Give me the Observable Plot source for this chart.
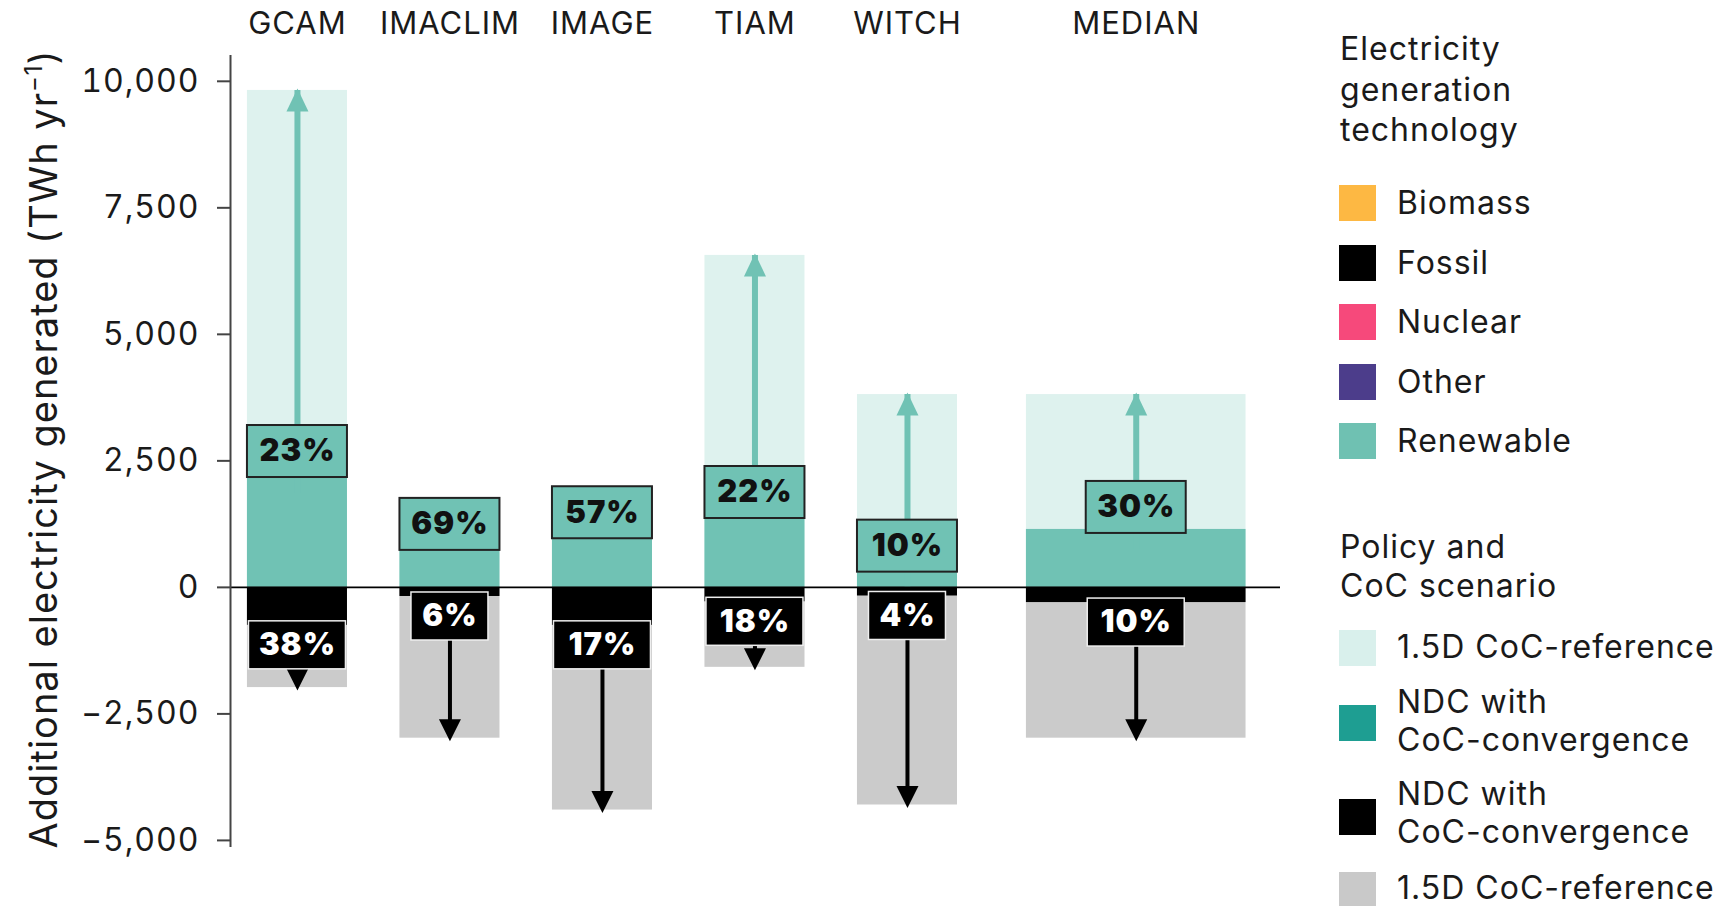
<!DOCTYPE html>
<html><head><meta charset="utf-8">
<script src="https://cdn.jsdelivr.net/npm/d3@7"></script>
<script src="https://cdn.jsdelivr.net/npm/@observablehq/plot@0.6"></script>
<style>
html,body{margin:0;padding:0;background:#fff;}
#wrap{position:relative;width:1716px;height:906px;overflow:hidden;font-family:Inter,"Noto Sans",sans-serif;color:#1a1a1a;}
#chart{position:absolute;left:0;top:0;}
.lg{position:absolute;font-size:32px;letter-spacing:1px;line-height:32px;white-space:nowrap;color:#1a1a1a;}
.sw{position:absolute;width:37px;height:36px;}
</style></head><body><div id="wrap"><div id="chart"></div><div id="legend"></div></div>
<script>
// ---- data ----
const models = ["GCAM", "IMACLIM", "IMAGE", "TIAM", "WITCH", "MEDIAN"];
const renewable15 = [9820, 1180, 1820, 6560, 3810, 3810];     // 1.5D CoC-reference, renewable
const renewableNDC = [2250, 810, 1040, 1440, 380, 1145];      // NDC with CoC-convergence, renewable
const fossil15 = [-1980, -2980, -4400, -1580, -4300, -2980];  // 1.5D CoC-reference, fossil
const fossilNDC = [-750, -180, -750, -285, -170, -300];       // NDC with CoC-convergence, fossil
const renewableShare = ["23%", "69%", "57%", "22%", "10%", "30%"];
const fossilShare = ["38%", "6%", "17%", "18%", "4%", "10%"];
const yTicks = [-5000, -2500, 0, 2500, 5000, 7500, 10000];
const techNames = ["Biomass", "Fossil", "Nuclear", "Other", "Renewable"];
const techColors = ["#FDB843", "#000000", "#F6497B", "#4C3D8B", "#6FC1B2"];
const scenarioNames = ["1.5D CoC-reference", "NDC with\nCoC-convergence", "NDC with\nCoC-convergence", "1.5D CoC-reference"];
const scenarioColors = ["#D9F0EC", "#1E9E92", "#000000", "#C9C9C9"];

// ---- styles ----
const teal = "#70C2B4", lightTeal = "#DEF2EE", grey = "#CBCBCB";
const last = models.length - 1;
const rows = models.map((model, i) => ({
  model,
  slot: i < last ? i : 5.5,
  half: i < last ? 0.328 : 0.72,
  r15: renewable15[i], rNDC: renewableNDC[i],
  f15: fossil15[i], fNDC: fossilNDC[i],
  rs: renewableShare[i], fs: fossilShare[i]
}));
const yDomain = [-5140, 10510];
const pxPerUnit = 792 / (yDomain[1] - yDomain[0]);
const upRows = rows.filter(d => (d.r15 - d.rNDC) * pxPerUnit > 60);

const upTri = {draw(ctx) { ctx.moveTo(0, 0); ctx.lineTo(11, 23); ctx.lineTo(-11, 23); ctx.closePath(); }};
const downTri = {draw(ctx) { ctx.moveTo(0, 0); ctx.lineTo(11, -22); ctx.lineTo(-11, -22); ctx.closePath(); }};

const plot = Plot.plot({
  width: 1300, height: 906,
  marginLeft: 230, marginRight: 20, marginTop: 55, marginBottom: 59,
  style: {fontFamily: "Inter, 'Noto Sans', sans-serif", color: "#1a1a1a", background: "white", letterSpacing: "1px"},
  x: {type: "linear", domain: [-0.439, 6.446], axis: null},
  y: {domain: yDomain, axis: null},
  marks: [
    Plot.rectY(rows, {x1: d => d.slot - d.half, x2: d => d.slot + d.half, y1: 0, y2: "r15", fill: lightTeal}),
    Plot.rectY(rows, {x1: d => d.slot - d.half, x2: d => d.slot + d.half, y1: 0, y2: "f15", fill: grey}),
    Plot.rectY(rows, {x1: d => d.slot - d.half, x2: d => d.slot + d.half, y1: 0, y2: "rNDC", fill: teal}),
    Plot.rectY(rows, {x1: d => d.slot - d.half, x2: d => d.slot + d.half, y1: 0, y2: "fNDC", fill: "#000"}),
    Plot.ruleX(upRows, {x: "slot", y1: "rNDC", y2: "r15", stroke: teal, strokeWidth: 6, insetTop: 20}),
    Plot.dot(upRows, {x: "slot", y: "r15", symbol: upTri, fill: teal, stroke: "none", dy: -2}),
    Plot.ruleX(rows, {x: "slot", y1: "fNDC", y2: "f15", stroke: "#000", strokeWidth: 4, insetBottom: 15}),
    Plot.dot(rows, {x: "slot", y: "f15", symbol: downTri, fill: "#000", stroke: "none", dy: 3}),
    Plot.ruleY([0], {stroke: "#000", strokeWidth: 1.6}),
    Plot.ruleX([-0.439], {y1: yDomain[0], y2: yDomain[1], stroke: "#444", strokeWidth: 2}),
    Plot.axisY({ticks: yTicks, tickSize: 13, tickPadding: 18, fontSize: 32, tickFormat: d3.format(","), label: null, stroke: "#444", strokeWidth: 2}),
    // renewable share boxes
    Plot.rect(rows, {x1: "slot", x2: "slot", y1: "rNDC", y2: "rNDC", insetLeft: -50, insetRight: -50, insetTop: -48, insetBottom: -4, fill: teal, stroke: "#222", strokeWidth: 2}),
    Plot.text(rows, {x: "slot", y: "rNDC", text: "rs", dy: -22, fontSize: 31, fontWeight: 900, fill: "#111", letterSpacing: "2px"}),
    // fossil share boxes
    Plot.rect(rows.filter(d => d.fs.length > 2), {x1: "slot", x2: "slot", y1: "fNDC", y2: "fNDC", insetLeft: -48.5, insetRight: -48.5, insetTop: -4, insetBottom: -44, fill: "#000", stroke: "#eee", strokeWidth: 1.5}),
    Plot.rect(rows.filter(d => d.fs.length <= 2), {x1: "slot", x2: "slot", y1: "fNDC", y2: "fNDC", insetLeft: -38.5, insetRight: -38.5, insetTop: -4, insetBottom: -44, fill: "#000", stroke: "#eee", strokeWidth: 1.5}),
    Plot.text(rows, {x: "slot", y: "fNDC", text: "fs", dy: 20, fontSize: 31, fontWeight: 900, fill: "#fff", letterSpacing: "2px"}),
    // model labels
    Plot.text(rows, {x: "slot", text: "model", frameAnchor: "top", dy: -44, fontSize: 31, fill: "#1a1a1a", letterSpacing: "1.5px"})
  ]
});
document.getElementById("chart").appendChild(plot);

// y-axis title with superscript
const svg = d3.select(plot);
const t = svg.append("text")
  .attr("transform", "translate(57,449) rotate(-90)")
  .attr("text-anchor", "middle").attr("font-size", 38).attr("fill", "#1a1a1a");
t.append("tspan").text("Additional electricity generated (TWh yr");
t.append("tspan").attr("dy", -15).attr("font-size", 24).text("−1");
t.append("tspan").attr("dy", 15).text(")");

// ---- legend ----
const lg = document.getElementById("legend");
function addText(txt, left, baseline) {
  const d = document.createElement("div");
  d.className = "lg"; d.textContent = txt;
  d.style.left = left + "px"; d.style.top = (baseline - 27.7) + "px";
  lg.appendChild(d);
}
function addSwatch(color, top) {
  const s = document.createElement("div");
  s.className = "sw"; s.style.left = "1339px"; s.style.top = top + "px"; s.style.background = color;
  s.style.height = Math.min(36, 906 - top) + "px";
  lg.appendChild(s);
}
["Electricity", "generation", "technology"].forEach((s, i) => addText(s, 1340, 61 + 40.5 * i));
techNames.forEach((n, i) => { addSwatch(techColors[i], 185 + 59.5 * i); addText(n, 1397, 215 + 59.5 * i); });
["Policy and", "CoC scenario"].forEach((s, i) => addText(s, 1340, 559 + 39 * i));
const scenTops = [630, 705, 799, 872];
const scenBase = [659, 714, 806, 900];
scenarioNames.forEach((n, i) => {
  addSwatch(scenarioColors[i], scenTops[i]);
  n.split("\n").forEach((line, j) => addText(line, 1397, scenBase[i] + 38 * j));
});
</script></body></html>
